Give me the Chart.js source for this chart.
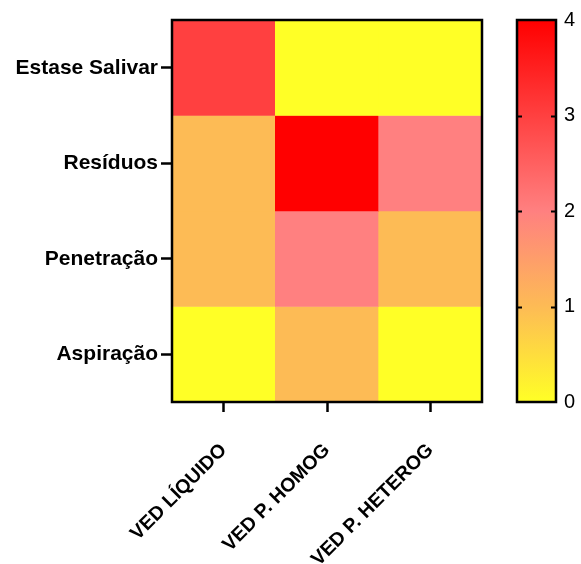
<!DOCTYPE html>
<html>
<head>
<meta charset="utf-8">
<script src="https://cdn.jsdelivr.net/npm/chart.js@4"></script>
<style>
  html, body { margin: 0; padding: 0; background: #fff; }
  #wrap { position: relative; width: 581px; height: 564px; }
  #heat { position: absolute; left: 0; top: 0; }
  #bar  { position: absolute; left: 500px; top: 0; }
</style>
</head>
<body>
<div id="wrap">
  <canvas id="heat" width="581" height="564"></canvas>
  <canvas id="bar" width="81" height="564"></canvas>
</div>
<script>
// Columns (swallowing consistencies) and rows (findings), top row first
const columns = ['VED LÍQUIDO', 'VED P. HOMOG', 'VED P. HETEROG'];
const rows = ['Estase Salivar', 'Resíduos', 'Penetração', 'Aspiração'];

// Scores per row, one value per column
const estaseSalivar = [3, 0, 0];
const residuos      = [1, 4, 2];
const penetracao    = [1, 2, 1];
const aspiracao     = [0, 1, 0];
const rowValues = [estaseSalivar, residuos, penetracao, aspiracao];

// Colour bar range and ticks
const scaleMin = 0;
const scaleMax = 4;
const scaleTicks = [0, 1, 2, 3, 4];

// Colour ramp: value -> rgb
const ramp = [
  { v: 0, c: [255, 255, 38] },
  { v: 1, c: [253, 187, 85] },
  { v: 2, c: [255, 128, 128] },
  { v: 4, c: [255, 0, 0] }
];
function colorFor(v) {
  for (let i = 0; i < ramp.length - 1; i++) {
    const a = ramp[i], b = ramp[i + 1];
    if (v <= b.v) {
      const t = (v - a.v) / (b.v - a.v);
      const c = a.c.map((x, k) => Math.round(x + (b.c[k] - x) * t));
      return `rgb(${c[0]},${c[1]},${c[2]})`;
    }
  }
  const c = ramp[ramp.length - 1].c;
  return `rgb(${c[0]},${c[1]},${c[2]})`;
}

const FONT = "'Liberation Sans', Arial, Helvetica, sans-serif";

// Black frame around a chart area
const framePlugin = {
  id: 'frame',
  afterDatasetsDraw(chart, args, opts) {
    const { ctx, chartArea: a } = chart;
    ctx.save();
    ctx.strokeStyle = '#000';
    ctx.lineWidth = opts.width || 2.5;
    ctx.strokeRect(a.left, a.top, a.right - a.left, a.bottom - a.top);
    ctx.restore();
  }
};

// Each row is a floating bar dataset spanning one unit on the y scale
const datasets = rowValues.map((vals, r) => {
  const lo = rows.length - 1 - r;
  return {
    label: rows[r],
    data: vals.map(() => [lo, lo + 1]),
    backgroundColor: vals.map(colorFor),
    borderWidth: 0,
    grouped: false,
    barPercentage: 1,
    categoryPercentage: 1
  };
});

new Chart(document.getElementById('heat'), {
  type: 'bar',
  data: { labels: columns, datasets },
  plugins: [framePlugin],
  options: {
    responsive: false,
    animation: false,
    events: [],
    layout: { padding: { top: 20, right: 99, left: 0, bottom: 0 } },
    plugins: { legend: { display: false }, tooltip: { enabled: false }, frame: { width: 2.5 } },
    scales: {
      x: {
        offset: true,
        border: { display: false },
        grid: { offset: false, drawOnChartArea: false, drawTicks: true, tickLength: 10, tickWidth: 2.5, tickColor: '#000' },
        ticks: {
          color: '#000', minRotation: 45, maxRotation: 45, padding: 27, autoSkip: false,
          font: { family: FONT, size: 19.5, weight: 'bold' }
        },
        afterFit(s) { s.height = 162; }
      },
      y: {
        min: scaleMin, max: rows.length,
        border: { display: false },
        grid: { drawOnChartArea: false, drawTicks: true, tickLength: 11, tickWidth: 2.5, tickColor: '#000' },
        afterBuildTicks(s) { s.ticks = rows.map((_, i) => ({ value: i + 0.5 })); },
        ticks: {
          color: '#000', padding: 3,
          font: { family: FONT, size: 21, weight: 'bold' },
          callback(v) { return rows[rows.length - 1 - Math.floor(v)]; }
        },
        afterFit(s) { s.width = 172; }
      }
    }
  }
});

// Colour bar: one floating bar over the whole range, filled with the ramp
const innerTicks = {
  id: 'innerTicks',
  afterDatasetsDraw(chart) {
    const { ctx, chartArea: a, scales: { y } } = chart;
    ctx.save();
    ctx.strokeStyle = '#000';
    ctx.lineWidth = 2;
    scaleTicks.slice(1, -1).forEach(v => {
      const py = Math.round(y.getPixelForValue(v)) + 0.5;
      ctx.beginPath();
      ctx.moveTo(a.left, py); ctx.lineTo(a.left + 5, py);
      ctx.moveTo(a.right - 5, py); ctx.lineTo(a.right, py);
      ctx.stroke();
    });
    ctx.restore();
  }
};

new Chart(document.getElementById('bar'), {
  type: 'bar',
  data: {
    labels: [''],
    datasets: [{
      data: [[scaleMin, scaleMax]],
      borderWidth: 0,
      barPercentage: 1,
      categoryPercentage: 1,
      backgroundColor(ctx) {
        const { chart } = ctx;
        const a = chart.chartArea;
        if (!a) return colorFor(2);
        const y = chart.scales.y;
        const g = chart.ctx.createLinearGradient(0, y.getPixelForValue(scaleMin), 0, y.getPixelForValue(scaleMax));
        ramp.forEach(s => g.addColorStop((s.v - scaleMin) / (scaleMax - scaleMin), colorFor(s.v)));
        return g;
      }
    }]
  },
  plugins: [framePlugin, innerTicks],
  options: {
    responsive: false,
    animation: false,
    events: [],
    layout: { padding: { top: 19, bottom: 162, left: 17, right: 0 } },
    plugins: { legend: { display: false }, tooltip: { enabled: false }, frame: { width: 2.5 } },
    scales: {
      x: { display: false },
      y: {
        position: 'right',
        min: scaleMin, max: scaleMax,
        border: { display: false },
        grid: { display: false, drawTicks: false },
        afterBuildTicks(s) { s.ticks = scaleTicks.map(v => ({ value: v })); },
        ticks: { color: '#000', padding: 8, font: { family: FONT, size: 20 } },
        afterFit(s) { s.width = 25; }
      }
    }
  }
});
</script>
</body>
</html>
